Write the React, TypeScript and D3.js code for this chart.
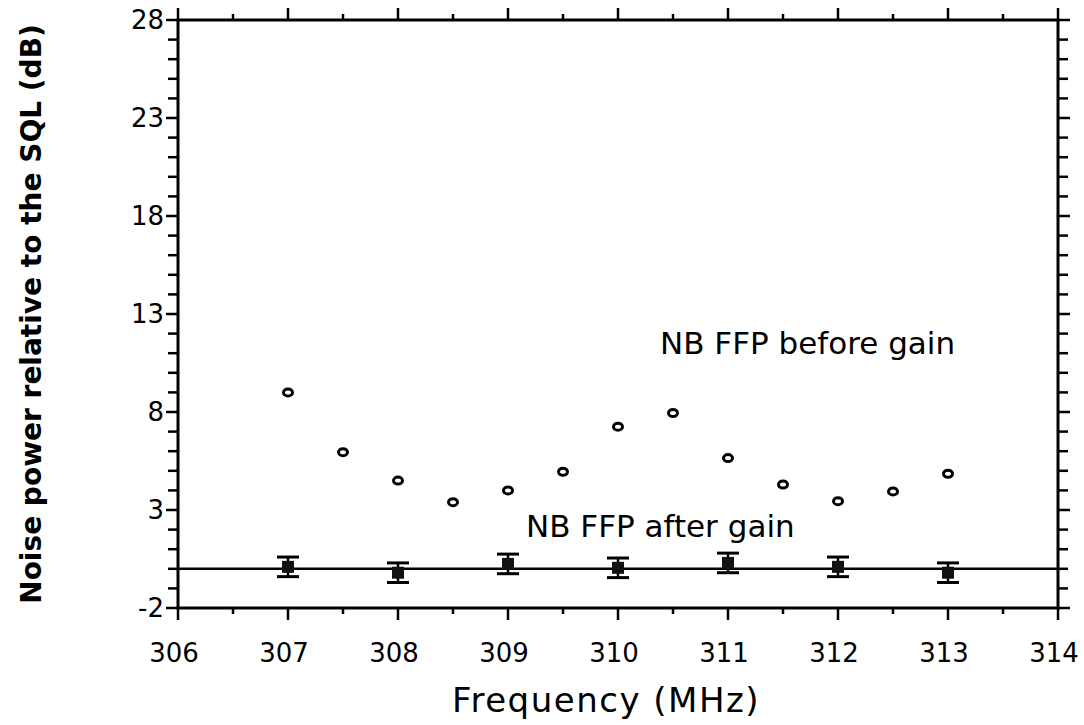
import React from "react";
import * as d3 from "d3";

const beforeFreq = [307, 307.5, 308, 308.5, 309, 309.5, 310, 310.5, 311, 311.5, 312, 312.5, 313];
const beforeVal = [9.0, 5.95, 4.5, 3.4, 4.0, 4.95, 7.25, 7.95, 5.65, 4.3, 3.45, 3.95, 4.85];
const afterFreq = [307, 308, 309, 310, 311, 312, 313];
const afterVal = [0.1, -0.2, 0.25, 0.05, 0.3, 0.1, -0.2];
const afterErr = [0.5, 0.5, 0.5, 0.5, 0.5, 0.5, 0.5];
const xTicks = [306, 307, 308, 309, 310, 311, 312, 313, 314];
const yTicks = [-2, 3, 8, 13, 18, 23, 28];

export default function App() {
  const W = 1084, H = 725;
  const left = 178, right = 1058, top = 20, bottom = 608;
  const x = d3.scaleLinear().domain([306, 314]).range([left, right]);
  const y = d3.scaleLinear().domain([-2, 28]).range([bottom, top]);
  const xMinor = d3.range(306.5, 314, 1);
  const yMinor = d3.range(-2, 28.01, 1).filter((v) => !yTicks.includes(v));
  const font = "'DejaVu Sans', Verdana, sans-serif";
  const sw = 2.5;
  return (
    <svg width={W} height={H} style={{ position: "absolute", left: 0, top: 0, background: "#fff" }}>
      <rect x={left} y={top} width={right - left} height={bottom - top} fill="none" stroke="#000" strokeWidth={3} />
      {xTicks.map((t) => (
        <g key={"xt" + t}>
          <line x1={x(t)} x2={x(t)} y1={bottom} y2={bottom + 12} stroke="#000" strokeWidth={sw} />
          <line x1={x(t)} x2={x(t)} y1={top} y2={top - 12} stroke="#000" strokeWidth={sw} />
          <text x={x(t) - 4} y={bottom + 54} textAnchor="middle" fontFamily={font} fontSize={26}>{t}</text>
        </g>
      ))}
      {xMinor.map((t) => (
        <g key={"xm" + t}>
          <line x1={x(t)} x2={x(t)} y1={bottom} y2={bottom + 6} stroke="#000" strokeWidth={sw} />
          <line x1={x(t)} x2={x(t)} y1={top} y2={top - 6} stroke="#000" strokeWidth={sw} />
        </g>
      ))}
      {yTicks.map((t) => (
        <g key={"yt" + t}>
          <line x1={left} x2={left - 12} y1={y(t)} y2={y(t)} stroke="#000" strokeWidth={sw} />
          <line x1={right} x2={right + 12} y1={y(t)} y2={y(t)} stroke="#000" strokeWidth={sw} />
          <text x={left - 14} y={y(t) + 9} textAnchor="end" fontFamily={font} fontSize={26}>{t}</text>
        </g>
      ))}
      {yMinor.map((t) => (
        <g key={"ym" + t}>
          <line x1={left} x2={left - 10} y1={y(t)} y2={y(t)} stroke="#000" strokeWidth={sw} />
          <line x1={right} x2={right + 10} y1={y(t)} y2={y(t)} stroke="#000" strokeWidth={sw} />
        </g>
      ))}
      <line x1={left} x2={right} y1={y(0)} y2={y(0)} stroke="#000" strokeWidth={2.5} />
      {beforeFreq.map((f, i) => (
        <ellipse key={"b" + i} cx={x(f)} cy={y(beforeVal[i])} rx={4.5} ry={3.5} fill="#fff" stroke="#000" strokeWidth={3} />
      ))}
      {afterFreq.map((f, i) => {
        const cx = x(f);
        const cy = y(afterVal[i]);
        const y1 = y(afterVal[i] + afterErr[i]);
        const y2 = y(afterVal[i] - afterErr[i]);
        return (
          <g key={"a" + i}>
            <line x1={cx} x2={cx} y1={y1} y2={y2} stroke="#000" strokeWidth={2.5} />
            <line x1={cx - 11} x2={cx + 11} y1={y1} y2={y1} stroke="#000" strokeWidth={3} />
            <line x1={cx - 11} x2={cx + 11} y1={y2} y2={y2} stroke="#000" strokeWidth={3} />
            <rect x={cx - 6} y={cy - 6} width={12} height={12} fill="#111" />
          </g>
        );
      })}
      <text x={660} y={354} fontFamily={font} fontSize={31}>NB FFP before gain</text>
      <text x={526} y={537} fontFamily={font} fontSize={31}>NB FFP after gain</text>
      <text x={606} y={712} textAnchor="middle" fontFamily={font} fontSize={34} letterSpacing={1.5}>Frequency (MHz)</text>
      <text transform={`translate(41, ${(top + bottom) / 2}) rotate(-90)`} textAnchor="middle" fontFamily={font} fontWeight="bold" fontSize={28}>
        Noise power relative to the SQL (dB)
      </text>
    </svg>
  );
}
